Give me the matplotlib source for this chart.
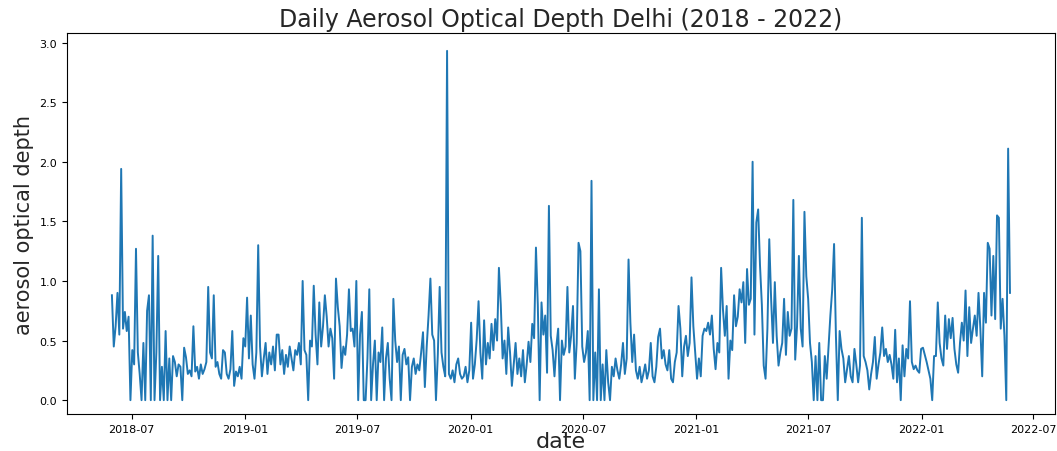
import pandas as pd
import matplotlib
matplotlib.use('Agg')
import matplotlib.pyplot as plt
import matplotlib.dates as mdates

start_date = '2018-05-30'
aod = [
    0.88, 0.45, 0.62, 0.90, 0.55, 1.94, 0.60, 0.74, 0.58, 0.70,
    0.0, 0.42, 0.30, 1.27, 0.40, 0.22, 0.0, 0.48, 0.0, 0.75,
    0.88, 0.0, 1.38, 0.0, 0.40, 1.21, 0.0, 0.28, 0.0, 0.58,
    0.0, 0.35, 0.0, 0.37, 0.32, 0.20, 0.30, 0.28, 0.0, 0.44,
    0.36, 0.22, 0.25, 0.20, 0.62, 0.24, 0.28, 0.18, 0.30, 0.22,
    0.26, 0.32, 0.95, 0.40, 0.35, 0.88, 0.28, 0.32, 0.22, 0.18,
    0.42, 0.40, 0.22, 0.18, 0.26, 0.58, 0.12, 0.24, 0.20, 0.28,
    0.18, 0.52, 0.45, 0.86, 0.35, 0.71, 0.30, 0.18, 0.40, 1.30,
    0.45, 0.20, 0.35, 0.48, 0.22, 0.40, 0.30, 0.45, 0.25, 0.55,
    0.55, 0.30, 0.42, 0.22, 0.38, 0.28, 0.45, 0.35, 0.25, 0.42,
    0.38, 0.48, 0.30, 1.00, 0.42, 0.38, 0.0, 0.50, 0.45, 0.96,
    0.55, 0.30, 0.82, 0.45, 0.62, 0.88, 0.70, 0.45, 0.60, 0.52,
    0.18, 1.02, 0.78, 0.62, 0.27, 0.45, 0.38, 0.55, 0.93, 0.58,
    0.60, 0.45, 1.00, 0.0, 0.55, 0.74, 0.0, 0.0, 0.35, 0.93,
    0.0, 0.30, 0.50, 0.0, 0.40, 0.32, 0.61, 0.0, 0.35, 0.48,
    0.18, 0.0, 0.85, 0.50, 0.32, 0.45, 0.0, 0.38, 0.43, 0.30,
    0.36, 0.0, 0.28, 0.35, 0.22, 0.30, 0.25, 0.40, 0.57, 0.11,
    0.45, 0.71, 1.02, 0.55, 0.50, 0.0, 0.38, 0.95, 0.40, 0.28,
    0.20, 2.93, 0.22, 0.18, 0.25, 0.15, 0.30, 0.35, 0.22, 0.18,
    0.20, 0.28, 0.15, 0.25, 0.65, 0.18, 0.30, 0.51, 0.83, 0.40,
    0.18, 0.67, 0.30, 0.48, 0.35, 0.64, 0.42, 0.68, 0.50, 1.11,
    0.80, 0.35, 0.50, 0.22, 0.61, 0.40, 0.12, 0.30, 0.48, 0.22,
    0.35, 0.20, 0.42, 0.15, 0.30, 0.49, 0.32, 0.64, 0.52, 1.28,
    0.80, 0.0, 0.82, 0.55, 0.71, 0.23, 1.63, 0.54, 0.42, 0.20,
    0.45, 0.60, 0.0, 0.50, 0.38, 0.45, 0.95, 0.40, 0.54, 0.79,
    0.18, 0.48, 1.32, 1.25, 0.45, 0.32, 0.40, 0.58, 0.0, 1.84,
    0.0, 0.40, 0.0, 0.93, 0.0, 0.30, 0.0, 0.42, 0.15, 0.0,
    0.28, 0.20, 0.35, 0.25, 0.18, 0.30, 0.48, 0.22, 0.35, 1.18,
    0.65, 0.32, 0.55, 0.25, 0.18, 0.28, 0.15, 0.22, 0.30, 0.18,
    0.25, 0.48, 0.20, 0.15, 0.28, 0.53, 0.60, 0.35, 0.42, 0.30,
    0.25, 0.42, 0.18, 0.15, 0.32, 0.40, 0.79, 0.60, 0.20, 0.45,
    0.54, 0.37, 0.48, 1.03, 0.62, 0.40, 0.18, 0.35, 0.20, 0.54,
    0.60, 0.58, 0.65, 0.55, 0.71, 0.43, 0.26, 0.48, 0.40, 1.11,
    0.76, 0.54, 0.79, 0.18, 0.50, 0.42, 0.88, 0.62, 0.70, 0.93,
    0.82, 0.99, 0.48, 1.10, 0.80, 0.85, 2.00, 0.55, 1.49, 1.60,
    1.13, 0.80, 0.29, 0.18, 0.60, 1.35, 0.85, 0.48, 0.99, 0.54,
    0.29, 0.40, 0.48, 0.85, 0.38, 0.74, 0.54, 0.60, 1.68, 0.34,
    0.62, 1.21, 0.60, 0.45, 1.58, 1.04, 0.85, 0.48, 0.32, 0.0,
    0.37, 0.0, 0.48, 0.0, 0.0, 0.37, 0.18, 0.45, 0.71, 0.93,
    1.31, 0.54, 0.0, 0.58, 0.43, 0.35, 0.15, 0.26, 0.37, 0.20,
    0.15, 0.43, 0.30, 0.15, 0.29, 1.53, 0.37, 0.32, 0.25, 0.09,
    0.22, 0.32, 0.53, 0.18, 0.30, 0.40, 0.61, 0.37, 0.43, 0.32,
    0.38, 0.30, 0.18, 0.59, 0.15, 0.35, 0.0, 0.46, 0.20, 0.43,
    0.35, 0.83, 0.32, 0.26, 0.29, 0.25, 0.23, 0.43, 0.44, 0.38,
    0.32, 0.25, 0.18, 0.0, 0.37, 0.37, 0.82, 0.48, 0.35, 0.29,
    0.71, 0.43, 0.68, 0.52, 0.69, 0.43, 0.30, 0.23, 0.48, 0.65,
    0.50, 0.92, 0.37, 0.78, 0.48, 0.60, 0.71, 0.54, 0.90, 0.60,
    0.20, 0.90, 0.65, 1.32, 1.27, 0.71, 1.21, 0.68, 1.55, 1.53,
    0.60, 0.85, 0.54, 0.0, 2.11, 0.90,
]

dates = pd.date_range(start=start_date, periods=len(aod), freq='3D')
df = pd.DataFrame({'date': dates, 'aod': aod}).set_index('date')

fig = plt.figure(figsize=(10.57, 4.52), dpi=100)
ax = fig.add_axes([0.0634, 0.0808, 0.9346, 0.844])
ax.plot(df.index, df['aod'], color='#1f77b4', linewidth=1.4)

ax.set_ylim(-0.12, 3.08)
ax.set_yticks([0.0, 0.5, 1.0, 1.5, 2.0, 2.5, 3.0])
ax.xaxis.set_major_locator(mdates.MonthLocator(bymonth=[1, 7]))
ax.xaxis.set_major_formatter(mdates.DateFormatter('%Y-%m'))
ax.tick_params(labelsize=8)

ax.set_title('Daily Aerosol Optical Depth Delhi (2018 - 2022)', fontsize=17, color='#262626', pad=5)
ax.set_xlabel('date', fontsize=16, color='#262626', va='bottom')
ax.xaxis.set_label_coords(0.5, -0.0955)
ax.set_ylabel('aerosol optical depth', fontsize=15, color='#262626')

fig.savefig('out.png', dpi=100)
